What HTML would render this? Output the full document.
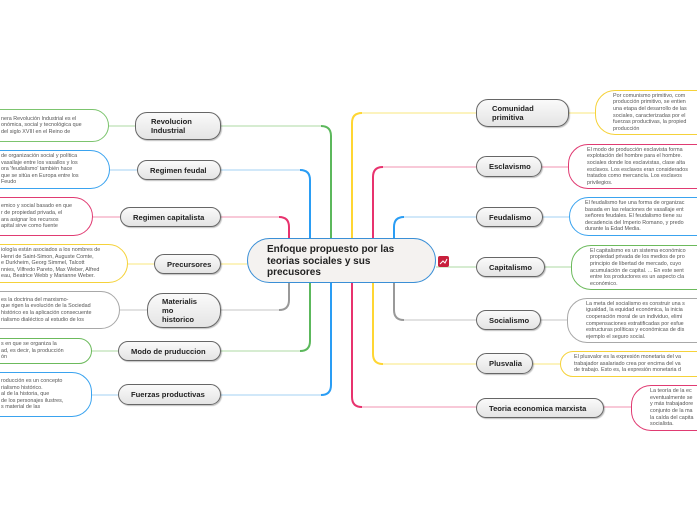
<!DOCTYPE html>
<html><head><meta charset="utf-8"><style>
body{margin:0;width:697px;height:520px;overflow:hidden;background:#fff;position:relative;font-family:"Liberation Sans",sans-serif}
.n{position:absolute;box-sizing:border-box;border:1.3px solid #666;border-radius:12px;background:linear-gradient(#fafafa,#e4e4e4);box-shadow:1px 1px 1px rgba(0,0,0,.25);font-weight:bold;font-size:7.6px;color:#222;display:flex;align-items:center;padding-left:12px;line-height:9px}
.b{position:absolute;box-sizing:border-box;border:1.4px solid;border-radius:20px;background:#fff;font-size:5.4px;line-height:6.6px;color:#555;white-space:nowrap;overflow:hidden;display:flex;flex-direction:column;justify-content:center}
.l{padding-left:0}
</style></head><body>
<svg width="697" height="520" style="position:absolute;left:0;top:0" fill="none" stroke-width="2">
<g stroke-width="1.6">
<path d="M321 126H221M109 126H135" stroke="#c8e6c2"/>
<path d="M300 170H221M110 170H137" stroke="#c2e1f7"/>
<path d="M279 217H221M93 217H120" stroke="#f6b7cb"/>
<path d="M247 264H221M128 264H154" stroke="#fcefa8"/>
<path d="M279 310H221M120 310H147" stroke="#d8d8d8"/>
<path d="M300 351H221M92 351H118" stroke="#c8e6c2"/>
<path d="M321 395H221M92 395H118" stroke="#c2e1f7"/>
<path d="M362 113H476M569 113H595" stroke="#fcefa8"/>
<path d="M383 167H476M542 167H568" stroke="#f6b7cb"/>
<path d="M404 217H476M543 217H569" stroke="#c2e1f7"/>
<path d="M436 267H476M545 267H571" stroke="#c8e6c2"/>
<path d="M404 320H476M541 320H567" stroke="#d8d8d8"/>
<path d="M383 364H476M533 364H560" stroke="#fcefa8"/>
<path d="M362 407H476M604 407H631" stroke="#f6b7cb"/>
</g>
<path d="M331 260V136Q331 126 321 126" stroke="#5cb85c"/>
<path d="M310 260V180Q310 170 300 170" stroke="#2a9df4"/>
<path d="M289 255V227Q289 217 279 217" stroke="#e8336e"/>
<path d="M289 265V300Q289 310 279 310" stroke="#999"/>
<path d="M310 265V341Q310 351 300 351" stroke="#5cb85c"/>
<path d="M331 265V385Q331 395 321 395" stroke="#2a9df4"/>
<path d="M352 260V123Q352 113 362 113" stroke="#ffd633"/>
<path d="M373 260V177Q373 167 383 167" stroke="#e8336e"/>
<path d="M394 245V227Q394 217 404 217" stroke="#2a9df4"/>
<path d="M394 280V310Q394 320 404 320" stroke="#999"/>
<path d="M373 260V354Q373 364 383 364" stroke="#ffd633"/>
<path d="M352 260V397Q352 407 362 407" stroke="#e8336e"/>
<rect x="438" y="256" width="11" height="11" rx="2" fill="#c8203c" stroke="none"/>
<path d="M440 264l3-3 2 2 2-4" stroke="#fff" stroke-width="1"/>
</svg>

<div style="position:absolute;left:247px;top:238px;width:189px;height:45px;box-sizing:border-box;border:1.5px solid #3a8fd6;border-radius:23px;background:#f4f2f0;font-weight:bold;font-size:10px;line-height:11.5px;color:#222;padding:5px 0 0 19px">Enfoque propuesto por las<br>teorias sociales y sus<br>precusores</div>

<div class="n" style="left:135px;top:112px;width:86px;height:28px;padding-left:15px">Revolucion<br>Industrial</div>
<div class="n" style="left:137px;top:160px;width:84px;height:20px">Regimen feudal</div>
<div class="n" style="left:120px;top:207px;width:101px;height:20px">Regimen capitalista</div>
<div class="n" style="left:154px;top:254px;width:67px;height:20px">Precursores</div>
<div class="n" style="left:147px;top:293px;width:74px;height:35px;padding-left:14px;border-radius:16px">Materialis<br>mo<br>historico</div>
<div class="n" style="left:118px;top:341px;width:103px;height:20px">Modo de pruduccion</div>
<div class="n" style="left:118px;top:384px;width:103px;height:21px">Fuerzas productivas</div>

<div class="n" style="left:476px;top:99px;width:93px;height:28px;padding-left:15px">Comunidad<br>primitiva</div>
<div class="n" style="left:476px;top:156px;width:66px;height:21px">Esclavismo</div>
<div class="n" style="left:476px;top:207px;width:67px;height:20px">Feudalismo</div>
<div class="n" style="left:476px;top:257px;width:69px;height:20px">Capitalismo</div>
<div class="n" style="left:476px;top:310px;width:65px;height:20px">Socialismo</div>
<div class="n" style="left:476px;top:353px;width:57px;height:21px">Plusvalia</div>
<div class="n" style="left:476px;top:398px;width:128px;height:20px">Teoria economica marxista</div>

<div class="b" style="left:-40px;top:109px;width:149px;height:33px;border-color:#7cc46e;padding-left:40px">nera Revolución Industrial es el<br>onómica, social y tecnológica que<br>del siglo XVIII en el Reino de</div>
<div class="b" style="left:-40px;top:150px;width:150px;height:39px;border-color:#3aa3ef;padding-left:40px">de organización social y política<br>vasallaje entre los vasallos y los<br>ora 'feudalismo' también hace<br>que se sitúa en Europa entre los<br>Feudo</div>
<div class="b" style="left:-40px;top:197px;width:133px;height:39px;border-color:#e03b72;padding-left:40px">emico y social basado en que<br>r de propiedad privada, el<br>ara asignar los recursos<br>apital sirve como fuente</div>
<div class="b" style="left:-40px;top:244px;width:168px;height:39px;border-color:#f5d23a;padding-left:40px">iología están asociados a los nombres de<br>Henri de Saint-Simon, Auguste Comte,<br>e Durkheim, Georg Simmel, Talcott<br>nnies, Vilfredo Pareto, Max Weber, Alfred<br>eau, Beatrice Webb y Marianne Weber.</div>
<div class="b" style="left:-40px;top:291px;width:160px;height:38px;border-color:#a8a8a8;padding-left:40px">es la doctrina del marxismo-<br>que rigen la evolución de la Sociedad<br>histórico es la aplicación consecuente<br>rialismo dialéctico al estudio de los</div>
<div class="b" style="left:-40px;top:338px;width:132px;height:26px;border-color:#6cba5c;padding-left:40px">s en que se organiza la<br>ad, es decir, la producción<br>ón</div>
<div class="b" style="left:-40px;top:372px;width:132px;height:45px;border-color:#3aa3ef;padding-left:40px">roducción es un concepto<br>rialismo histórico.<br>al de la historia, que<br>de los personajes ilustres,<br>s material de las</div>

<div class="b" style="left:595px;top:90px;width:160px;height:45px;border-color:#f5d23a;padding-left:17px">Por comunismo primitivo, com<br>producción primitivo, se entien<br>una etapa del desarrollo de las<br>sociales, caracterizadas por el<br>fuerzas productivas, la propied<br>producción</div>
<div class="b" style="left:568px;top:144px;width:180px;height:45px;border-color:#e03b72;padding-left:18px">El modo de producción esclavista forma<br>explotación del hombre para el hombre.<br>sociales donde los esclavistas, clase alta<br>esclavos. Los esclavos eran considerados<br>tratados como mercancía. Los esclavos<br>privilegios.</div>
<div class="b" style="left:569px;top:197px;width:180px;height:39px;border-color:#3aa3ef;padding-left:15px">El feudalismo fue una forma de organizac<br>basada en las relaciones de vasallaje ent<br>señores feudales. El feudalismo tiene su<br>decadencia del Imperio Romano, y predo<br>durante la Edad Media.</div>
<div class="b" style="left:571px;top:245px;width:180px;height:45px;border-color:#6cba5c;padding-left:18px">El capitalismo es un sistema económico<br>propiedad privada de los medios de pro<br>principio de libertad de mercado, cuyo<br>acumulación de capital. ... En este sent<br>entre los productores es un aspecto cla<br>económico.</div>
<div class="b" style="left:567px;top:298px;width:180px;height:45px;border-color:#a8a8a8;padding-left:18px">La meta del socialismo es construir una s<br>igualdad, la equidad económica, la inicia<br>cooperación moral de un individuo, elimi<br>compensaciones estratificadas por esfue<br>estructuras políticas y económicas de dis<br>ejemplo el seguro social.</div>
<div class="b" style="left:560px;top:351px;width:190px;height:26px;border-color:#f5d23a;padding-left:13px">El plusvalor es la expresión monetaria del va<br>trabajador asalariado crea por encima del va<br>de trabajo. Esto es, la expresión monetaria d</div>
<div class="b" style="left:631px;top:385px;width:120px;height:46px;border-color:#e03b72;padding-left:18px">La teoría de la ec<br>eventualmente se<br>y más trabajadore<br>conjunto de la ma<br>la caída del capita<br>socialista.</div>
</body></html>
